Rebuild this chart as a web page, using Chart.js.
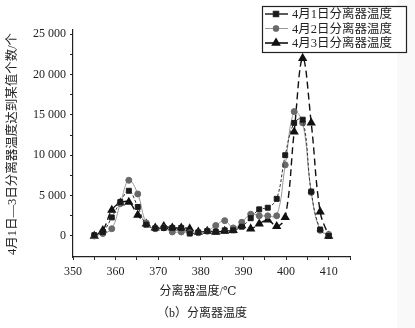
<!DOCTYPE html>
<html>
<head>
<meta charset="utf-8">
<script src="https://cdn.jsdelivr.net/npm/chart.js@4"></script>
<style>
  html, body { margin: 0; padding: 0; }
  body { width: 415px; height: 328px; background: linear-gradient(to right, #fff 0, #fff 397px, #f9f9f9 397px); }
  #wrap { position: relative; width: 415px; height: 328px; }
</style>
</head>
<body>
<div id="wrap"><canvas id="tempChart" width="415" height="328"></canvas></div>
<script>
// separator temperature (deg C) of each point
const temps = [355, 357, 359.1, 361.1, 363.1, 365.2, 367.2, 369.3, 371.3, 373.3, 375.4, 377.4, 379.4, 381.5,
               383.5, 385.6, 387.6, 389.6, 391.7, 393.7, 395.7, 397.8, 399.8, 401.9, 403.9, 405.9, 408, 410];
const seriesNames = ["4月1日分离器温度", "4月2日分离器温度", "4月3日分离器温度"];
const apr1 = [100, 500, 2300, 4200, 5600, 3600, 1400, 950, 1000, 1000, 1000, 300, 450, 600,
              550, 700, 700, 1150, 2200, 3300, 3500, 4600, 10000, 14000, 14400, 5500, 800, 0];
const apr2 = [0, 300, 900, 4000, 6900, 5200, 1600, 900, 1000, 500, 500, 400, 400, 600,
              1300, 1900, 1000, 1700, 2700, 2500, 2500, 2500, 8800, 15400, 14000, 5400, 700, 200];
const apr3 = [0, 700, 3200, 4100, 4200, 2600, 1500, 1000, 1200, 1000, 1000, 900, 500, 600,
              500, 600, 700, 1300, 900, 1500, 2000, 1200, 2300, 12900, 22000, 14000, 3000, 0];
const xTicks = [350, 355, 360, 365, 370, 375, 380, 385, 390, 395, 400, 405, 410, 415];
const yTicks = [0, 2500, 5000, 7500, 10000, 12500, 15000, 17500, 20000, 22500, 25000];

const serif = '"Times New Roman", "Liberation Serif", "DejaVu Serif", "Noto Sans CJK SC", serif';
const ink = '#222';

function pts(vals) {
    return temps.map((t, i) => ({ x: t, y: vals[i] }));
}
function fmt(v) {
    return String(v).replace(/\B(?=(\d{3})+(?!\d))/g, ' ');
}

// titles, caption and the boxed legend
const extras = {
    id: 'extras',
    afterDraw(chart) {
        const c = chart.ctx;
        c.save();
        c.fillStyle = ink;
        c.textAlign = 'center';
        c.textBaseline = 'middle';
        c.font = '12px ' + serif;
        c.fillText('分离器温度/℃', 198, 292);
        c.fillText('（b）分离器温度', 202, 314);

        c.save();
        c.translate(13, 144);
        c.rotate(-Math.PI / 2);
        c.font = '12.5px ' + serif;
        c.fillText('4月1日—3日分离器温度达到某值个数/个', 0, 0);
        c.restore();

        // legend
        c.fillStyle = '#fff';
        c.fillRect(262, 6, 144, 46);
        c.strokeStyle = ink;
        c.lineWidth = 1.2;
        c.strokeRect(262.5, 6.5, 144, 46);
        const rows = [14, 28.5, 43];
        chart.data.datasets.forEach((ds, i) => {
            const y = rows[i];
            c.strokeStyle = ds.borderColor;
            c.lineWidth = i === 1 ? 1 : 1.6;
            c.setLineDash([]);
            c.beginPath();
            c.moveTo(265, y);
            c.lineTo(288, y);
            c.stroke();
            Chart.helpers.drawPoint(c, {
                pointStyle: ds.pointStyle, radius: ds.pointRadius, borderWidth: 1
            }, 276, y);
            c.fillStyle = ds.pointBackgroundColor;
            c.strokeStyle = ds.pointBorderColor;
            c.fill();
            c.fillStyle = ink;
            c.textAlign = 'left';
            c.font = '12.5px ' + serif;
            c.fillText(seriesNames[i], 292, y + 1);
        });
        c.restore();
    }
};

new Chart("tempChart", {
    type: "line",
    data: {
        datasets: [
            {
                label: seriesNames[0], data: pts(apr1),
                borderColor: '#333', borderWidth: 1, borderDash: [3, 2],
                pointStyle: 'rect', pointRadius: 3.5,
                pointBackgroundColor: '#1a1a1a', pointBorderColor: '#1a1a1a', tension: 0.4
            },
            {
                label: seriesNames[1], data: pts(apr2),
                borderColor: '#999', borderWidth: 1,
                pointStyle: 'circle', pointRadius: 3,
                pointBackgroundColor: '#6a6a6a', pointBorderColor: '#6a6a6a', tension: 0.4
            },
            {
                label: seriesNames[2], data: pts(apr3),
                borderColor: '#111', borderWidth: 1.4, borderDash: [7, 4],
                pointStyle: 'triangle', pointRadius: 4,
                pointBackgroundColor: '#111', pointBorderColor: '#111', tension: 0.4
            }
        ]
    },
    options: {
        responsive: false,
        animation: false,
        layout: { padding: { left: 0, top: 30, right: 65, bottom: 0 } },
        plugins: { legend: { display: false }, tooltip: { enabled: false } },
        scales: {
            x: {
                type: 'linear', min: 350, max: 415,
                border: { color: ink, width: 1.2 },
                grid: { drawOnChartArea: false, tickLength: 3, color: ink },
                afterBuildTicks: s => { s.ticks = xTicks.map(v => ({ value: v })); },
                afterFit: s => { s.height = 71; },
                ticks: {
                    color: ink, font: { family: serif, size: 12 }, padding: 5,
                    autoSkip: false, maxRotation: 0,
                    callback: v => (v % 10 === 0 && v <= 410) ? String(v) : ''
                }
            },
            y: {
                min: -2600, max: 25500,
                border: { color: ink, width: 1.2 },
                grid: { drawOnChartArea: false, tickLength: 3, color: ink },
                afterBuildTicks: s => { s.ticks = yTicks.map(v => ({ value: v })); },
                afterFit: s => { s.width = 73; },
                ticks: {
                    color: ink, font: { family: serif, size: 12 }, padding: 4,
                    autoSkip: false,
                    callback: v => v % 5000 === 0 ? fmt(v) : ''
                }
            }
        }
    },
    plugins: [extras]
});
</script>
</body>
</html>
